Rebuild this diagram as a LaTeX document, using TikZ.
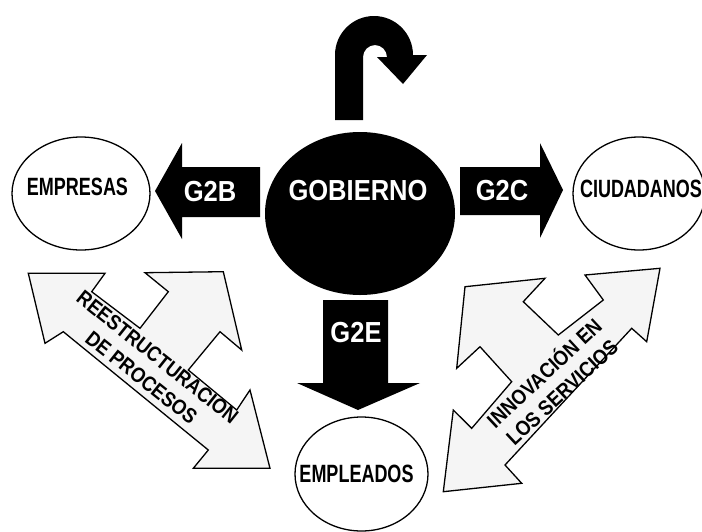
\documentclass[tikz,border=0pt]{standalone}
\usepackage{fontspec}
\setmainfont{Liberation Sans}
\newfontfamily\narrowfont[FakeStretch=0.72]{Liberation Sans}
\newfontfamily\labelfont[FakeStretch=0.88]{Liberation Sans}
\usetikzlibrary{shapes.geometric}
\begin{document}
\begin{tikzpicture}[x=1pt,y=-1pt,
  entity/.style={ellipse, draw=black, line width=1.3pt, fill=white, inner sep=0pt},
  enttext/.style={font=\narrowfont\bfseries\fontsize{25}{25}\selectfont, inner sep=0pt},
  gtext/.style={text=white, font=\labelfont\bfseries\fontsize{29}{29}\selectfont, inner sep=0pt},
  blockarrow/.style={fill=black},
  dblarrow/.style={draw=black, line width=1.3pt, fill=black!4, line join=miter},
  arrowtext/.style={font=\labelfont\bfseries\fontsize{21}{26}\selectfont, align=center, inner sep=0pt}]

\useasboundingbox (0,0) rectangle (702,531);

% partner ellipses
\node[entity, minimum width=138pt, minimum height=113pt] (empresas) at (81,193.5) {};
\node[entity, minimum width=132pt, minimum height=113pt] (ciudadanos) at (639,193.5) {};
\node[entity, minimum width=133pt, minimum height=114pt] (empleados) at (361.5,474) {};
\node[enttext] (empresasT) at (77.5,187) {EMPRESAS};
\node[enttext] (ciudadanosT) at (641,189) {CIUDADANOS};
\node[enttext] (empleadosT) at (356.5,474) {EMPLEADOS};

% government disc
\node[ellipse, fill=black, minimum width=190pt, minimum height=163pt, inner sep=0pt] (gobierno) at (360,213.5) {};
\node[gtext] (gobiernoT) at (358,191) {GOBIERNO};

% U-turn arrow above the disc
\fill[blockarrow] (335,120) -- (335,55)
  .. controls (335,33.5) and (352.5,16) .. (374,16)
  .. controls (395.5,16) and (413,33.5) .. (413,55)
  -- (427,55) -- (403,84) -- (377,57) -- (387,57)
  .. controls (387,50.4) and (381.6,45) .. (375,45)
  .. controls (368.4,45) and (363,50.4) .. (363,57)
  -- (363,120) -- cycle;

% G2B, G2C, G2E block arrows
\fill[blockarrow] (260,167) -- (182,167) -- (182,143) -- (155,191) -- (182,239) -- (182,217) -- (260,217) -- cycle;
\fill[blockarrow] (460,167) -- (540,167) -- (540,143) -- (563,190) -- (540,238) -- (540,215) -- (460,215) -- cycle;
\fill[blockarrow] (323,300) -- (388,300) -- (388,383) -- (420,383) -- (358,410) -- (297,383) -- (323,383) -- cycle;
\node[gtext] (g2b) at (210,192) {G2B};
\node[gtext] (g2c) at (502,191) {G2C};
\node[gtext] (g2e) at (356,333) {G2E};

% three-way outlined arrows
\draw[dblarrow] (28.3,273.3) -- (105,273.3) -- (91.7,291.7) -- (140,328.3) -- (168.3,291.7)
  -- (145,272.7) -- (223.3,271.7) -- (241.7,350) -- (220,331.7) -- (188.3,370)
  -- (236.7,410) -- (250,390) -- (270,468.3) -- (193.3,468.3) -- (208.3,450)
  -- (63.3,331.7) -- (45,343.3) -- cycle;
\draw[dblarrow] (443.3,491.7) -- (453.3,410) -- (471.7,428.3) -- (511.7,381.7) -- (480,346.7)
  -- (456.7,368.3) -- (465,286.7) -- (545,278.3) -- (523.3,301.7) -- (558.3,335)
  -- (603.3,300) -- (585,275) -- (660,268.3) -- (646.7,341.7) -- (631.7,328.3)
  -- (505,465) -- (521.7,483.3) -- cycle;
\node[arrowtext, rotate=-38.5] (procesos) at (149.5,367.5) {REESTRUCTURACION\\DE PROCESOS};
\node[arrowtext, rotate=43] (servicios) at (552,381.5) {INNOVACIÓN EN\\LOS SERVICIOS};

\end{tikzpicture}
\end{document}
